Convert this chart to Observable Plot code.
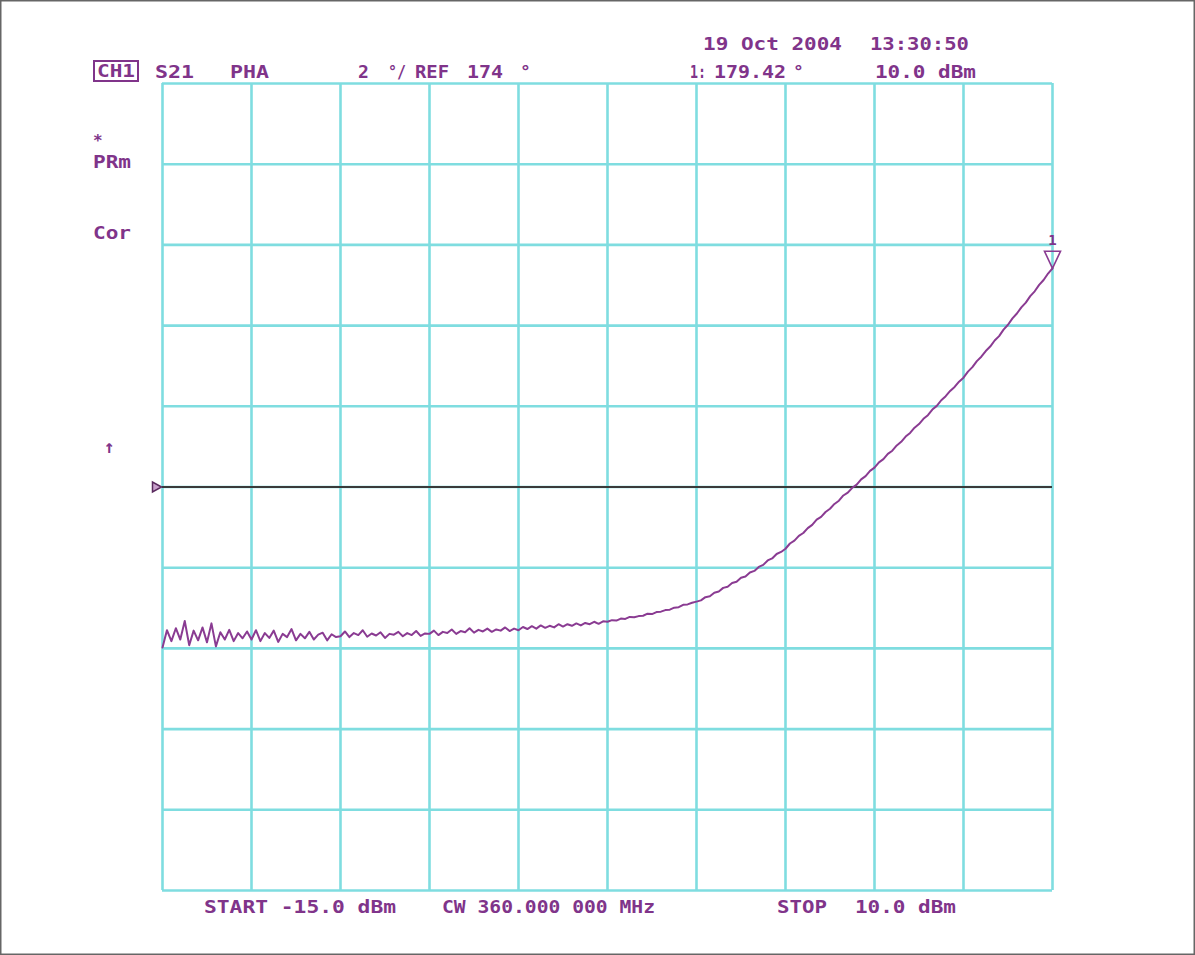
<!DOCTYPE html>
<html><head><meta charset="utf-8">
<script src="https://cdn.jsdelivr.net/npm/d3@7"></script>
<script src="https://cdn.jsdelivr.net/npm/@observablehq/plot@0.6"></script>
<style>html,body{margin:0;padding:0;background:#fff;} #chart{position:relative;width:1195px;height:955px;}</style>
</head><body><div id="chart"></div>
<script>
// Sweep: power (dBm), 201 points
const startPower = -15;
const stopPower = 10;
const pointCount = 201;
// Phase of S21 (degrees)
const phase = [
  170.02,170.45,170.18,170.50,170.22,170.68,170.08,170.44,170.20,170.52,170.15,170.62,170.05,170.40,170.22,170.46,170.18,170.38,170.25,170.42,
  170.22,170.45,170.18,170.38,170.26,170.44,170.16,170.36,170.28,170.48,170.20,170.36,170.25,170.41,170.22,170.34,170.39,170.20,170.35,170.28,
  170.30,170.42,170.28,170.38,170.33,170.45,170.29,170.37,170.32,170.40,170.26,170.36,170.34,170.41,170.30,170.38,170.33,170.43,170.31,170.37,
  170.36,170.44,170.33,170.41,170.38,170.47,170.36,170.43,170.40,170.50,170.39,170.46,170.42,170.49,170.41,170.47,170.44,170.52,170.43,170.49,
  170.45,170.53,170.48,170.55,170.49,170.57,170.51,170.56,170.52,170.60,170.54,170.60,170.56,170.62,170.57,170.63,170.60,170.66,170.61,170.67,
  170.66,170.70,170.69,170.74,170.73,170.78,170.77,170.80,170.81,170.86,170.85,170.90,170.91,170.95,170.96,171.01,171.02,171.08,171.09,171.13,
  171.16,171.19,171.27,171.29,171.38,171.41,171.50,171.53,171.62,171.65,171.75,171.78,171.88,171.92,172.02,172.07,172.18,172.23,172.34,172.39,
  172.47,172.60,172.67,172.79,172.86,172.98,173.06,173.19,173.26,173.38,173.46,173.58,173.66,173.79,173.86,173.98,174.06,174.19,174.27,174.40,
  174.48,174.61,174.69,174.82,174.90,175.03,175.12,175.25,175.34,175.47,175.56,175.69,175.78,175.92,176.01,176.15,176.25,176.38,176.48,176.61,
  176.71,176.86,176.97,177.12,177.23,177.37,177.48,177.63,177.74,177.90,178.02,178.18,178.30,178.45,178.57,178.73,178.85,179.01,179.13,179.29,179.42
];
const gridX = [-15, -12.5, -10, -7.5, -5, -2.5, 0, 2.5, 5, 7.5, 10];
const gridY = [164, 166, 168, 170, 172, 174, 176, 178, 180, 182, 184];
const refPhase = 174;
const markerPower = 10;
const markerPhase = 179.42;
const markerLabel = "1";

const trace = phase.map((p, i) => ({power: startPower + i * (stopPower - startPower) / (pointCount - 1), phase: p}));

const gridColor = "#7fdde0";
const traceColor = "#8a3b92";
const textColor = "#80348a";

const invertedTriangle = {draw(ctx) { ctx.moveTo(0, 0); ctx.lineTo(-8, -17); ctx.lineTo(8, -17); ctx.closePath(); }};
const rightTriangle = {draw(ctx) { ctx.moveTo(-1, 0); ctx.lineTo(-10, -5); ctx.lineTo(-10, 5); ctx.closePath(); }};

const chart = Plot.plot({
  width: 1195, height: 955,
  marginLeft: 162, marginRight: 143, marginTop: 83, marginBottom: 65,
  x: {domain: [startPower, stopPower], axis: null},
  y: {domain: [164, 184], axis: null},
  style: {background: "#fff", overflow: "visible"},
  marks: [
    Plot.ruleX(gridX, {stroke: gridColor, strokeWidth: 2.6}),
    Plot.ruleY(gridY, {stroke: gridColor, strokeWidth: 2.6}),
    Plot.ruleY([refPhase], {x1: startPower, x2: stopPower, stroke: "#3a3a3a", strokeWidth: 2}),
    Plot.dot([{power: startPower, phase: refPhase}], {x: "power", y: "phase", symbol: rightTriangle, r: 5, stroke: "#5a2a5e", strokeWidth: 1.5, fill: "#c9a0cc"}),
    Plot.line(trace, {x: "power", y: "phase", stroke: traceColor, strokeWidth: 2}),
    Plot.dot([{power: markerPower, phase: markerPhase}], {x: "power", y: "phase", symbol: invertedTriangle, r: 5, stroke: traceColor, strokeWidth: 1.6, fill: "none"}),
    Plot.text([{power: markerPower, phase: markerPhase, label: markerLabel}], {x: "power", y: "phase", text: "label", dy: -28, fill: textColor, fontSize: 14, fontWeight: "bold", fontFamily: "DejaVu Sans Mono"})
  ]
});
document.getElementById("chart").appendChild(chart);

const svg = d3.select(chart);
const labels = [
  {t: "19 Oct 2004", x: 703, y: 50, len: 139},
  {t: "13:30:50", x: 870, y: 50, len: 99},
  {t: "CH1", x: 97, y: 77, len: 38},
  {t: "S21", x: 155, y: 78, len: 39},
  {t: "PHA", x: 230, y: 78, len: 39},
  {t: "2", x: 358, y: 78},
  {t: "°/", x: 388, y: 78, len: 18},
  {t: "REF", x: 415, y: 78, len: 34},
  {t: "174", x: 467, y: 78, len: 36},
  {t: "°", x: 520, y: 78},
  {t: "1:", x: 690, y: 78, len: 16},
  {t: "179.42", x: 714, y: 78, len: 72},
  {t: "°", x: 793, y: 78},
  {t: "10.0 dBm", x: 875, y: 78, len: 101},
  {t: "*", x: 93, y: 146, size: 16},
  {t: "PRm", x: 93, y: 168, len: 38},
  {t: "Cor", x: 93, y: 239, len: 38},
  {t: "↑", x: 104, y: 453},
  {t: "START -15.0 dBm", x: 204, y: 913, len: 192},
  {t: "CW 360.000 000 MHz", x: 442, y: 913, len: 213},
  {t: "STOP", x: 777, y: 913, len: 50},
  {t: "10.0 dBm", x: 855, y: 913, len: 101}
];
const g = svg.append("g").attr("fill", textColor).attr("text-anchor", "start")
  .attr("font-family", "DejaVu Sans Mono, monospace").attr("font-size", 18).attr("font-weight", "bold");
for (const l of labels) {
  const el = g.append("text").attr("x", l.x).attr("y", l.y).text(l.t);
  if (l.size) el.attr("font-size", l.size);
  if (l.len) el.attr("textLength", l.len).attr("lengthAdjust", "spacingAndGlyphs");
}
svg.append("rect").attr("x", 94).attr("y", 61).attr("width", 44).attr("height", 20)
  .attr("fill", "none").attr("stroke", textColor).attr("stroke-width", 2);
svg.append("rect").attr("x", 0.75).attr("y", 0.75).attr("width", 1193.5).attr("height", 953.5)
  .attr("fill", "none").attr("stroke", "#666").attr("stroke-width", 1.5);
</script>
</body></html>
